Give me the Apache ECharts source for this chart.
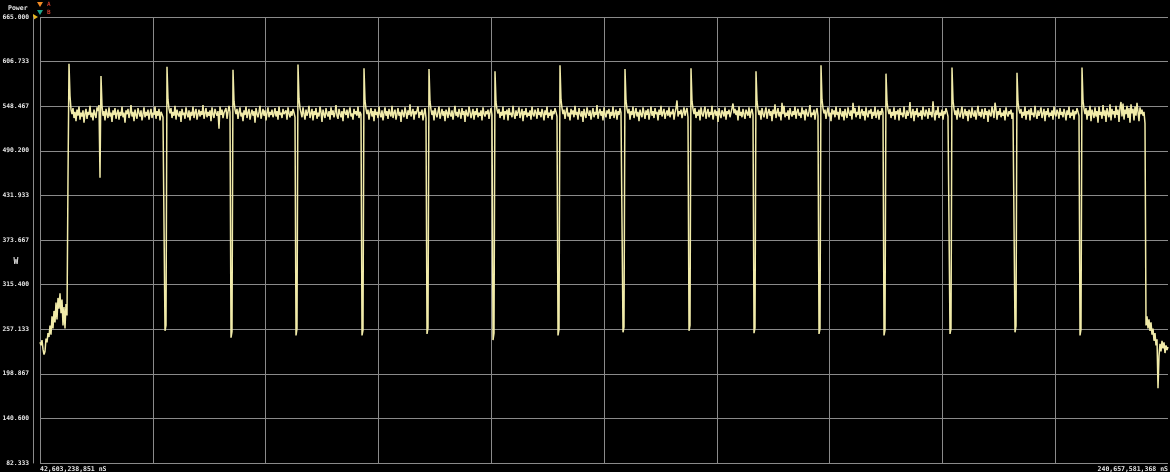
<!DOCTYPE html>
<html><head><meta charset="utf-8">
<script src="https://cdn.jsdelivr.net/npm/echarts@6/dist/echarts.min.js"></script>
<style>html,body{margin:0;padding:0;background:#000;}#c{width:1170px;height:472px;}</style>
</head><body><div id="c"></div>
<script>
// ---- axis extents / ticks ----
const tStartNs = 42603238851;
const tEndNs = 240657581368;
const yMin = 82.333, yMax = 665.000;
const yTicks = [82.333, 140.600, 198.867, 257.133, 315.400, 373.667, 431.933, 490.200, 548.467, 606.733, 665.000];
const xLabelValues = [tStartNs, tEndNs];
const xGridDivisions = 10;
const yUnit = 'W';
const channelName = 'Power';

// ---- trace samples (W), uniformly sampled from tStartNs to tEndNs ----
const lowStart = [240,236,243,231,224,228,245,240,252,247,262,250,274,258,281,266,292,270,298,284,304,278,296,262,286,258,290,275];
const riseEdge = [455,604,562,544];
const plateau0 = [538,546,533,541,529,544,536,548,531,540,535,543,527,539,545,532,541,537,549,534,540,530,544,538,533,547,542,550];
const smallSpike = [455,588,549];
const plateau1 = [536,542,530,545,538,533,547,535,540,528,543,537,546,532,539,544,531,541,536,548,534,540,527,543,538,545,533,539,550,535,541,529,544,537,532,546,540,535,543,530,538,547,534,541,536,544,531,539,545,533,540,537,548,532,542,536,545,530,541,538,534];
const spike1 = [536,255,262,600,557,545];
const plateau2 = [539,546,533,541,536,549,531,544,538,535,542,528,545,537,540,532,547,539,534,543,530,541,536,548,533,540,545,531,538,544,535,542,537,550,532,539,546,534,541,536,543,529,547,538,533,545,540,536,542,519,548,537,544,533,540,538,546,532,541,549];
const spike2 = [541,246,254,596,555,544];
const plateau3 = [538,545,532,541,547,535,540,529,543,537,548,533,540,545,531,538,544,536,542,527,546,539,534,541,549,532,538,545,536,543,530,540,547,534,541,537,544,534,539,546,535,542,531,548,537,540,533,545,538,536,543,531,547,539,534,542,536,545,540];
const spike3 = [534,249,258,603,558,546];
const plateau4 = [540,534,547,538,531,544,536,541,549,533,539,545,530,542,537,546,532,540,535,548,541,528,544,538,533,546,539,535,542,531,547,537,543,534,540,550,536,532,545,539,534,542,529,546,540,537,544,533,541,547,535,539,531,545,538,542,536,548,533,541];
const spike4 = [538,249,256,598,556,545];
const plateau5 = [538,544,531,540,546,535,542,529,545,537,541,533,548,538,534,543,530,539,547,536,542,532,545,539,535,549,533,540,544,531,538,546,536,541,528,544,539,534,547,540,532,543,537,551,535,540,545,531,542,538,536,548,533,541,537,544,530,539,546];
const spike5 = [533,251,259,597,555,544];
const plateau6 = [537,543,530,546,539,534,541,548,532,538,545,536,542,529,544,540,533,547,538,535,543,531,540,549,536,541,534,545,539,532,546,537,542,528,544,538,535,548,541,533,539,545,531,542,537,546,534,540,536,543,530,547,539,535,542,538,544,532,540,546];
const spike6 = [537,243,252,594,554,544];
const plateau7 = [539,545,533,541,536,548,531,542,538,544,530,546,537,540,534,549,538,532,543,536,541,547,533,539,545,529,542,537,546,534,540,536,543,531,548,538,535,544,540,532,546,537,541,534,545,539,530,543,537,548,533,540,536,544,531,542,538,546,541];
const spike7 = [535,249,257,602,557,546];
const plateau8 = [538,544,532,541,547,535,540,530,545,538,543,534,549,537,541,531,546,539,535,542,528,545,538,533,547,540,536,543,531,539,546,534,541,537,550,532,540,545,536,542,530,547,538,534,543,539,545,532,541,536,548,533,539,544,531,542,537,546,540];
const spike8 = [539,253,260,597,556,545];
const plateau9 = [539,545,531,542,537,548,533,540,546,535,541,529,544,538,534,547,540,532,543,537,545,531,539,548,536,542,533,546,538,541,530,544,537,549,535,540,545,532,539,543,536,547,534,541,538,545,531,540,546,556,535,542,538,544,533,540,547,536,542,546];
const spike9 = [534,255,262,598,555,545];
const plateau10 = [538,546,533,541,536,544,530,547,539,535,542,548,532,540,545,534,541,537,549,531,539,544,536,542,528,546,538,533,543,540,535,547,531,542,538,544,534,540,546,552,539,545,537,543,530,548,536,541,534,545,538,532,544,540,536,547,533,541,545];
const spike10 = [537,252,259,594,555,544];
const plateau11 = [537,543,531,546,539,534,541,547,532,540,545,536,542,529,544,538,551,533,540,546,535,541,530,553,538,549,534,540,536,543,531,546,539,535,542,537,548,532,541,545,536,540,533,547,538,543,530,545,539,535,542,550,534,540,537,544,531,541,546];
const spike11 = [536,251,258,602,557,546];
const plateau12 = [539,544,532,541,547,535,540,529,545,538,543,534,548,537,541,531,546,539,535,542,530,545,538,533,547,540,536,543,531,553,539,546,534,541,537,549,532,540,545,536,542,530,547,538,534,543,539,545,532,541,536,548,533,539,544,531,542,537,546];
const spike12 = [540,249,256,591,554,544];
const plateau13 = [538,545,533,541,536,547,531,542,538,544,530,546,537,540,534,548,538,532,543,536,541,554,533,539,545,529,542,537,546,534,540,536,543,531,548,538,535,544,540,532,546,537,541,534,555,539,530,543,537,548,533,540,536,544,531,542,538,546,541,535];
const spike13 = [535,251,258,599,556,545];
const plateau14 = [537,543,531,546,539,534,541,548,532,538,545,536,542,529,544,540,533,547,538,535,543,531,540,549,536,541,534,545,539,532,546,537,542,528,544,538,535,548,541,533,553,545,531,542,537,546,534,540,536,543,530,547,539,535,542,538,544,532,540];
const spike14 = [538,253,261,592,554,544];
const plateau15 = [539,545,533,541,536,548,531,542,538,544,530,546,537,540,534,549,538,532,543,536,541,547,533,539,545,529,542,537,546,534,540,536,543,531,548,538,535,544,540,532,546,537,541,534,545,539,530,543,537,548,533,540,536,544,531,542,538,546,541];
const spike15 = [536,249,257,599,556,545];
const plateau16 = [538,546,531,543,536,549,529,544,539,533,547,535,542,527,548,537,541,532,550,536,543,528,546,539,534,551,530,545,538,542,533,549,537,544,528,547,554,535,552,531,544,538,549,533,546,527,551,539,545,530,548,536,553,541,529,547,538,544,536,541];
const dropEnd = [526,262,274,258,270,255,266,250,258,242,252,236,244,180,222,238,228,242,232,240,226,236,230,234];

const powerW = [].concat(lowStart, riseEdge, plateau0, smallSpike, plateau1,
  spike1, plateau2, spike2, plateau3, spike3, plateau4, spike4, plateau5, spike5, plateau6,
  spike6, plateau7, spike7, plateau8, spike8, plateau9, spike9, plateau10, spike10, plateau11,
  spike11, plateau12, spike12, plateau13, spike13, plateau14, spike14, plateau15, spike15,
  plateau16, dropEnd);

const samplePeriod = (tEndNs - tStartNs) / (powerW.length - 1);
const seriesData = powerW.map((v, i) => [tStartNs + i * samplePeriod, v]);
const xGridValues = [];
for (let k = 0; k < xGridDivisions; k++) xGridValues.push(tStartNs + k * (tEndNs - tStartNs) / xGridDivisions);

const MONO = "'DejaVu Sans Mono', 'Liberation Mono', monospace";
const chart = echarts.init(document.getElementById('c'), null, {renderer: 'canvas'});
chart.setOption({
  backgroundColor: '#000000',
  animation: false,
  title: {
    text: channelName, left: 8, top: 5, padding: 0,
    textStyle: {fontFamily: MONO, fontSize: 6.5, fontWeight: 'bold', color: '#e6e6e6'}
  },
  grid: {left: 40, right: 2, top: 17, bottom: 9, containLabel: false, outerBoundsMode: 'none'},
  xAxis: {
    type: 'value', min: tStartNs, max: tEndNs,
    axisLine: {show: false},
    axisTick: {show: false, customValues: xGridValues},
    splitLine: {show: true, lineStyle: {color: '#8a8a8a', width: 1}},
    axisLabel: {
      customValues: xLabelValues,
      alignMinLabel: 'left', alignMaxLabel: 'right',
      margin: 3,
      fontFamily: MONO, fontSize: 6.5, fontWeight: 'bold', color: '#e6e6e6',
      formatter: v => Math.round(v).toLocaleString('en-US') + ' nS'
    }
  },
  yAxis: {
    type: 'value', min: yMin, max: yMax, offset: 7,
    axisLine: {show: true, lineStyle: {color: '#8a8a8a', width: 1}},
    axisTick: {show: false, customValues: yTicks},
    splitLine: {show: true, lineStyle: {color: '#8a8a8a', width: 1}},
    axisLabel: {
      customValues: yTicks, margin: 4,
      fontFamily: MONO, fontSize: 6.3, fontWeight: 'bold', color: '#e6e6e6',
      formatter: v => v.toFixed(3)
    }
  },
  graphic: [
    {type: 'text', x: 16, y: 262, style: {text: yUnit, align: 'center', verticalAlign: 'middle', font: "bold 8px 'DejaVu Sans Mono'", fill: '#e6e6e6'}, silent: true},
    {type: 'polygon', shape: {points: [[37,2],[43,2],[40,7]]}, style: {fill: '#f08a24'}, silent: true},
    {type: 'text', left: 47, top: 1, style: {text: 'A', font: "bold 6px 'DejaVu Sans Mono'", fill: '#c83a2a'}, silent: true},
    {type: 'polygon', shape: {points: [[37,10],[43,10],[40,15]]}, style: {fill: '#1fa58c'}, silent: true},
    {type: 'text', left: 47, top: 9, style: {text: 'B', font: "bold 6px 'DejaVu Sans Mono'", fill: '#c83a2a'}, silent: true},
    {type: 'polygon', shape: {points: [[33,14],[33,20],[38,17]]}, style: {fill: '#e8b820'}, silent: true}
  ],
  series: [{
    type: 'line', data: seriesData, showSymbol: false, symbol: 'none',
    sampling: null, silent: true,
    lineStyle: {color: '#f1eba9', width: 1.5},
    itemStyle: {color: '#f1eba9'}
  }]
});
</script>
</body></html>
